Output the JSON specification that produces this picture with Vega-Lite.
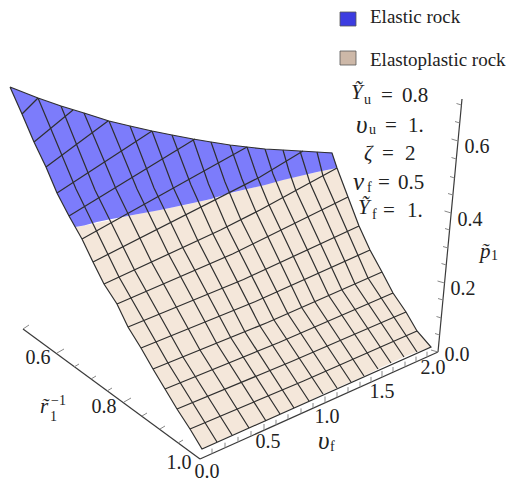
{"$schema":"https://vega.github.io/schema/vega-lite/v6.json","width":517,"height":487,"padding":0,"autosize":{"type":"fit","contains":"padding"},"background":"white","config":{"view":{"stroke":null}},
"encoding":{"x":{"field":"x","type":"quantitative","scale":{"domain":[0,517],"nice":false,"zero":false},"axis":null},"y":{"field":"y","type":"quantitative","scale":{"domain":[487,0],"nice":false,"zero":false},"axis":null}},
"layer":[
{"mark":{"type":"area","color":"#f4e7da","opacity":1,"line":false},"encoding":{"y2":{"field":"y2"}},"data":{"values":[{"x":75,"y":227,"y2":227},{"x":82,"y":226,"y2":239},{"x":93,"y":224,"y2":262},{"x":104,"y":221.5,"y2":284},{"x":117,"y":219,"y2":304},{"x":128,"y":216,"y2":327},{"x":141,"y":213.5,"y2":348},{"x":153,"y":211,"y2":369},{"x":160,"y":210,"y2":381},{"x":165,"y":209,"y2":389},{"x":177,"y":206.5,"y2":409},{"x":190,"y":204,"y2":429},{"x":193,"y":203,"y2":434},{"x":202,"y":201,"y2":449},{"x":217,"y":198,"y2":442},{"x":230,"y":193.5,"y2":436},{"x":232,"y":193,"y2":435},{"x":249,"y":188.5,"y2":428},{"x":260,"y":186,"y2":423.5},{"x":266,"y":184.5,"y2":421},{"x":280,"y":180.5,"y2":414},{"x":290,"y":178,"y2":409.5},{"x":294,"y":177,"y2":408},{"x":309,"y":174,"y2":401},{"x":313,"y":173,"y2":399},{"x":323,"y":171,"y2":394},{"x":337,"y":168,"y2":388},{"x":348,"y":197,"y2":383},{"x":351,"y":205,"y2":382},{"x":359,"y":226,"y2":378.5},{"x":364,"y":237,"y2":376},{"x":370,"y":250,"y2":373},{"x":378,"y":264.5,"y2":369},{"x":382,"y":272,"y2":367},{"x":391,"y":289.5,"y2":363},{"x":393,"y":293,"y2":362},{"x":404,"y":309,"y2":357},{"x":406,"y":312,"y2":356},{"x":417,"y":331,"y2":352},{"x":431,"y":347,"y2":347}]}},
{"mark":{"type":"area","color":"#7c7cfb","opacity":1},"encoding":{"y2":{"field":"y2"}},"data":{"values":[{"x":10,"y":87,"y2":87},{"x":22,"y":91.7,"y2":114},{"x":34,"y":96.5,"y2":142},{"x":38,"y":98,"y2":150},{"x":46,"y":101,"y2":167},{"x":57,"y":104.5,"y2":193},{"x":61,"y":106,"y2":200.5},{"x":69,"y":108.5,"y2":216},{"x":75,"y":110.5,"y2":227},{"x":84,"y":113,"y2":225.5},{"x":97,"y":117,"y2":222},{"x":109,"y":121,"y2":219.5},{"x":128,"y":125.5,"y2":216},{"x":130,"y":126,"y2":215.5},{"x":152,"y":131,"y2":211.5},{"x":160,"y":132.6,"y2":210},{"x":172,"y":135,"y2":207.5},{"x":193,"y":139,"y2":203},{"x":211,"y":142,"y2":199},{"x":230,"y":145,"y2":193},{"x":247,"y":147,"y2":189},{"x":265,"y":149,"y2":185},{"x":283,"y":150,"y2":180},{"x":300,"y":151,"y2":176},{"x":317,"y":152,"y2":172},{"x":332,"y":152.5,"y2":169},{"x":337,"y":168,"y2":168}]}},
{"mark":{"type":"line","color":"#2f2f2f","strokeWidth":1.2,"interpolate":"linear"},"encoding":{"detail":{"field":"g"},"order":{"field":"s","type":"quantitative"}},"data":{"values":[
{"g":"v1","s":0,"x":217,"y":442},{"g":"v1","s":1,"x":168,"y":363},{"g":"v1","s":2,"x":119,"y":277},{"g":"v1","s":3,"x":76,"y":189},{"g":"v1","s":4,"x":38,"y":98},
{"g":"v2","s":0,"x":232,"y":435},{"g":"v2","s":1,"x":183,"y":357},{"g":"v2","s":2,"x":135,"y":271},{"g":"v2","s":3,"x":95,"y":190},{"g":"v2","s":4,"x":61,"y":106},
{"g":"v3","s":0,"x":249,"y":428},{"g":"v3","s":1,"x":200,"y":350},{"g":"v3","s":2,"x":152,"y":263},{"g":"v3","s":3,"x":116,"y":189},{"g":"v3","s":4,"x":84,"y":113},
{"g":"v4","s":0,"x":266,"y":421},{"g":"v4","s":1,"x":217,"y":344},{"g":"v4","s":2,"x":169,"y":255},{"g":"v4","s":3,"x":137,"y":189},{"g":"v4","s":4,"x":109,"y":121},
{"g":"v5","s":0,"x":280,"y":414},{"g":"v5","s":1,"x":231,"y":338},{"g":"v5","s":2,"x":183,"y":248},{"g":"v5","s":3,"x":154,"y":188},{"g":"v5","s":4,"x":130,"y":126},
{"g":"v6","s":0,"x":294,"y":408},{"g":"v6","s":1,"x":245,"y":332},{"g":"v6","s":2,"x":198,"y":241},{"g":"v6","s":3,"x":173,"y":187},{"g":"v6","s":4,"x":152,"y":131},
{"g":"v7","s":0,"x":309,"y":401},{"g":"v7","s":1,"x":260,"y":326},{"g":"v7","s":2,"x":213,"y":234},{"g":"v7","s":3,"x":191,"y":185},{"g":"v7","s":4,"x":172,"y":135},
{"g":"v8","s":0,"x":323,"y":394},{"g":"v8","s":1,"x":274,"y":320},{"g":"v8","s":2,"x":227,"y":227},{"g":"v8","s":3,"x":208.5,"y":184},{"g":"v8","s":4,"x":193,"y":139},
{"g":"v9","s":0,"x":337,"y":388},{"g":"v9","s":1,"x":288,"y":314},{"g":"v9","s":2,"x":241,"y":220},{"g":"v9","s":3,"x":225,"y":182},{"g":"v9","s":4,"x":211,"y":142},
{"g":"v10","s":0,"x":351,"y":382},{"g":"v10","s":1,"x":302,"y":308},{"g":"v10","s":2,"x":256,"y":212},{"g":"v10","s":3,"x":242,"y":179},{"g":"v10","s":4,"x":230,"y":145},
{"g":"v11","s":0,"x":364,"y":376},{"g":"v11","s":1,"x":315,"y":302},{"g":"v11","s":2,"x":269,"y":205},{"g":"v11","s":3,"x":257,"y":176},{"g":"v11","s":4,"x":247,"y":147},
{"g":"v12","s":0,"x":378,"y":369},{"g":"v12","s":1,"x":329,"y":296},{"g":"v12","s":2,"x":283,"y":198},{"g":"v12","s":3,"x":273,"y":174},{"g":"v12","s":4,"x":265,"y":149},
{"g":"v13","s":0,"x":391,"y":363},{"g":"v13","s":1,"x":342,"y":290},{"g":"v13","s":2,"x":296,"y":191},{"g":"v13","s":3,"x":289,"y":171},{"g":"v13","s":4,"x":283,"y":150},
{"g":"v14","s":0,"x":404,"y":357},{"g":"v14","s":1,"x":355,"y":284},{"g":"v14","s":2,"x":310,"y":183},{"g":"v14","s":3,"x":305,"y":167},{"g":"v14","s":4,"x":300,"y":151},
{"g":"v15","s":0,"x":417,"y":352},{"g":"v15","s":1,"x":368,"y":278},{"g":"v15","s":2,"x":323,"y":176},{"g":"v15","s":3,"x":320,"y":164},{"g":"v15","s":4,"x":317,"y":152},
{"g":"r1","s":0,"x":22,"y":114},{"g":"r1","s":1,"x":38,"y":98},
{"g":"r2","s":0,"x":34,"y":142},{"g":"r2","s":1,"x":73,"y":110},
{"g":"r3","s":0,"x":46,"y":167},{"g":"r3","s":1,"x":108,"y":121},
{"g":"r4","s":0,"x":57,"y":193},{"g":"r4","s":1,"x":152,"y":131},
{"g":"r5","s":0,"x":69,"y":216},{"g":"r5","s":1,"x":195,"y":139},
{"g":"r6","s":0,"x":82,"y":239},{"g":"r6","s":1,"x":247,"y":147},
{"g":"r7","s":0,"x":93,"y":262},{"g":"r7","s":1,"x":260,"y":177},{"g":"r7","s":2,"x":303,"y":151},
{"g":"r8","s":0,"x":104,"y":284},{"g":"r8","s":1,"x":220.5,"y":230},{"g":"r8","s":2,"x":260,"y":210},{"g":"r8","s":3,"x":337,"y":168},
{"g":"r9","s":0,"x":117,"y":304},{"g":"r9","s":1,"x":232.5,"y":254},{"g":"r9","s":2,"x":348,"y":197},
{"g":"r10","s":0,"x":128,"y":327},{"g":"r10","s":1,"x":243.5,"y":279.5},{"g":"r10","s":2,"x":359,"y":226},
{"g":"r11","s":0,"x":141,"y":348},{"g":"r11","s":1,"x":255.5,"y":301.5},{"g":"r11","s":2,"x":370,"y":250},
{"g":"r12","s":0,"x":153,"y":369},{"g":"r12","s":1,"x":267.5,"y":322.5},{"g":"r12","s":2,"x":382,"y":272},
{"g":"r13","s":0,"x":165,"y":389},{"g":"r13","s":1,"x":279,"y":342.5},{"g":"r13","s":2,"x":393,"y":293},
{"g":"r14","s":0,"x":177,"y":409},{"g":"r14","s":1,"x":291.5,"y":361.5},{"g":"r14","s":2,"x":406,"y":312},
{"g":"r15","s":0,"x":190,"y":429},{"g":"r15","s":1,"x":303.5,"y":381},{"g":"r15","s":2,"x":417,"y":331},
{"g":"edge","s":0,"x":10,"y":87},{"g":"edge","s":1,"x":22,"y":114},{"g":"edge","s":2,"x":34,"y":142},{"g":"edge","s":3,"x":46,"y":167},{"g":"edge","s":4,"x":57,"y":193},{"g":"edge","s":5,"x":69,"y":216},{"g":"edge","s":6,"x":82,"y":239},{"g":"edge","s":7,"x":93,"y":262},{"g":"edge","s":8,"x":104,"y":284},{"g":"edge","s":9,"x":117,"y":304},{"g":"edge","s":10,"x":128,"y":327},{"g":"edge","s":11,"x":141,"y":348},{"g":"edge","s":12,"x":153,"y":369},{"g":"edge","s":13,"x":165,"y":389},{"g":"edge","s":14,"x":177,"y":409},{"g":"edge","s":15,"x":190,"y":429},{"g":"edge","s":16,"x":202,"y":449},
{"g":"edge","s":17,"x":431,"y":347},{"g":"edge","s":18,"x":417,"y":331},{"g":"edge","s":19,"x":406,"y":312},{"g":"edge","s":20,"x":393,"y":293},{"g":"edge","s":21,"x":382,"y":272},{"g":"edge","s":22,"x":370,"y":250},{"g":"edge","s":23,"x":359,"y":226},{"g":"edge","s":24,"x":348,"y":197},{"g":"edge","s":25,"x":337,"y":168},{"g":"edge","s":26,"x":332,"y":153},
{"g":"edge","s":27,"x":317,"y":152},{"g":"edge","s":28,"x":300,"y":151},{"g":"edge","s":29,"x":283,"y":150},{"g":"edge","s":30,"x":265,"y":149},{"g":"edge","s":31,"x":247,"y":147},{"g":"edge","s":32,"x":230,"y":145},{"g":"edge","s":33,"x":211,"y":142},{"g":"edge","s":34,"x":193,"y":139},{"g":"edge","s":35,"x":172,"y":135},{"g":"edge","s":36,"x":152,"y":131},{"g":"edge","s":37,"x":130,"y":126},{"g":"edge","s":38,"x":109,"y":121},{"g":"edge","s":39,"x":84,"y":113},{"g":"edge","s":40,"x":61,"y":106},{"g":"edge","s":41,"x":38,"y":98},{"g":"edge","s":42,"x":10,"y":87}
]}},
{"mark":{"type":"rule","color":"#3a3a3a","strokeWidth":1.2},"encoding":{"x2":{"field":"x2"},"y2":{"field":"y2"}},"data":{"values":[{"x":23,"y":329,"x2":200,"y2":459},{"x":200,"y":459,"x2":438,"y2":352},{"x":438,"y":352,"x2":462,"y2":99}]}},
{"mark":{"type":"rule","color":"#888888","strokeWidth":1},"encoding":{"x2":{"field":"x2"},"y2":{"field":"y2"}},"data":{"values":[
{"x":23,"y":329,"x2":29,"y2":325},{"x":57,"y":353,"x2":64,"y2":349},{"x":74,"y":367,"x2":79,"y2":364},{"x":91,"y":379,"x2":96,"y2":376},{"x":107,"y":391,"x2":112,"y2":388},{"x":124,"y":402,"x2":131,"y2":398},{"x":142,"y":416,"x2":147,"y2":413},{"x":160,"y":429,"x2":165,"y2":426},{"x":178,"y":443,"x2":183,"y2":440},
{"x":212,"y":453.6,"x2":212,"y2":448.6},{"x":225,"y":447.7,"x2":225,"y2":442.7},{"x":238,"y":441.9,"x2":238,"y2":436.9},{"x":251,"y":436,"x2":251,"y2":431},{"x":264,"y":430.1,"x2":264,"y2":424},{"x":276,"y":424.8,"x2":276,"y2":419.8},{"x":288,"y":419.3,"x2":288,"y2":414.3},{"x":301,"y":413.4,"x2":301,"y2":408.4},{"x":313,"y":408,"x2":313,"y2":403},{"x":325,"y":402.6,"x2":325,"y2":396.5},{"x":337,"y":397.2,"x2":337,"y2":392.2},{"x":348,"y":392.2,"x2":348,"y2":387.2},{"x":360,"y":386.8,"x2":360,"y2":381.8},{"x":371,"y":381.9,"x2":371,"y2":376.9},{"x":382,"y":377,"x2":382,"y2":371},{"x":393,"y":372,"x2":393,"y2":367},{"x":405,"y":366.6,"x2":405,"y2":361.6},{"x":416,"y":361.6,"x2":416,"y2":356.6},{"x":427,"y":356.7,"x2":427,"y2":351.7},
{"x":438,"y":352,"x2":431,"y2":350},{"x":439.6,"y":335,"x2":435,"y2":333.5},{"x":441.2,"y":318,"x2":436.5,"y2":316.5},{"x":442.9,"y":300,"x2":438,"y2":298.5},{"x":444.5,"y":283,"x2":437.5,"y2":281},{"x":446.3,"y":265,"x2":441.5,"y2":263.5},{"x":447.9,"y":248,"x2":443,"y2":246.5},{"x":449.6,"y":230,"x2":445,"y2":228.5},{"x":451.2,"y":213,"x2":444.5,"y2":211},{"x":452.9,"y":195,"x2":448,"y2":193.5},{"x":454.5,"y":178,"x2":450,"y2":176.5},{"x":456.3,"y":159,"x2":451.5,"y2":157.5},{"x":458,"y":141,"x2":451.5,"y2":139},{"x":459.7,"y":123,"x2":455,"y2":121.5},{"x":461.4,"y":105,"x2":456.5,"y2":103.5}
]}},
{"mark":{"type":"rect","stroke":"#555555","strokeWidth":0.8},"encoding":{"x2":{"field":"x2"},"y2":{"field":"y2"},"fill":{"field":"c","type":"nominal","scale":null}},"data":{"values":[{"x":340,"y":12,"x2":356,"y2":26,"c":"#3c3ce0"},{"x":340,"y":51,"x2":356,"y2":65,"c":"#cdb8a8"}]}},
{"mark":{"type":"text","font":"Liberation Serif","fontSize":20,"align":"center","baseline":"middle","color":"#222222"},"encoding":{"text":{"field":"t"}},"data":{"values":[{"x":38,"y":358,"t":"0.6"},{"x":104,"y":407,"t":"0.8"},{"x":179,"y":463,"t":"1.0"},{"x":207,"y":472,"t":"0.0"},{"x":268,"y":442,"t":"0.5"},{"x":327,"y":417,"t":"1.0"},{"x":382,"y":392,"t":"1.5"},{"x":433,"y":368,"t":"2.0"},{"x":457,"y":355,"t":"0.0"},{"x":463,"y":289,"t":"0.2"},{"x":470,"y":220,"t":"0.4"},{"x":477,"y":147,"t":"0.6"}]}},
{"mark":{"type":"text","font":"Liberation Serif","fontSize":19,"align":"left","baseline":"middle","color":"#222222"},"encoding":{"text":{"field":"t"}},"data":{"values":[{"x":370,"y":17,"t":"Elastic rock"},{"x":370,"y":60,"t":"Elastoplastic rock"}]}},
{"mark":{"type":"text","font":"Liberation Serif","fontSize":21,"align":"left","baseline":"middle","color":"#222222"},"encoding":{"text":{"field":"t"}},"data":{"values":[{"x":381,"y":96,"t":"="},{"x":402,"y":96,"t":"0.8"},{"x":385,"y":126,"t":"="},{"x":408,"y":126,"t":"1."},{"x":382,"y":154,"t":"="},{"x":405,"y":154,"t":"2"},{"x":378,"y":183,"t":"="},{"x":398,"y":183,"t":"0.5"},{"x":383,"y":211,"t":"="},{"x":407,"y":211,"t":"1."}]}},
{"mark":{"type":"text","font":"Liberation Serif","fontStyle":"italic","fontSize":21,"align":"left","baseline":"middle","color":"#222222"},"encoding":{"text":{"field":"t"}},"data":{"values":[{"x":351,"y":93,"t":"Ỹ"},{"x":364,"y":154,"t":"ζ"},{"x":358,"y":208,"t":"Ỹ"},{"x":480,"y":252,"t":"p̃"},{"x":40,"y":407,"t":"r̃"}]}},
{"mark":{"type":"text","font":"Liberation Serif","fontStyle":"italic","fontSize":25,"align":"left","baseline":"middle","color":"#222222"},"encoding":{"text":{"field":"t"}},"data":{"values":[{"x":356,"y":125,"t":"υ"},{"x":353,"y":182,"t":"ν"},{"x":318,"y":441,"t":"υ"}]}},
{"mark":{"type":"text","font":"Liberation Serif","fontSize":14,"align":"left","baseline":"middle","color":"#222222"},"encoding":{"text":{"field":"t"}},"data":{"values":[{"x":364,"y":100,"t":"u"},{"x":369,"y":130,"t":"u"},{"x":367,"y":188,"t":"f"},{"x":372,"y":215,"t":"f"},{"x":330,"y":447,"t":"f"},{"x":491,"y":256,"t":"1"},{"x":50,"y":417,"t":"1"},{"x":51,"y":401,"t":"−1"}]}}
]}
